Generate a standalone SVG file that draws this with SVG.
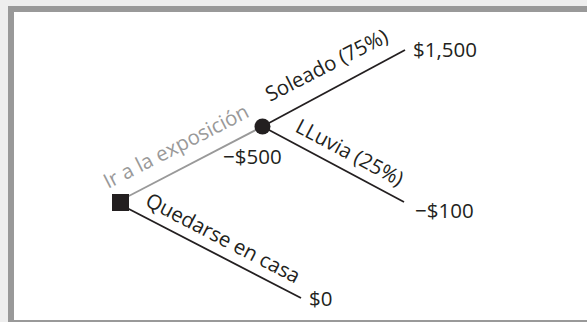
<svg xmlns="http://www.w3.org/2000/svg" width="587" height="322" viewBox="0 0 587 322">
<style>
.t{font-family:"Open Sans","Noto Sans",sans-serif;font-size:20.5px;fill:#231f20}
.g{fill:#999999}
.ln{stroke:#231f20;stroke-width:1.8;fill:none}
.lg{stroke:#999999;stroke-width:1.8;fill:none}
</style>
<rect x="0" y="0" width="587" height="322" fill="#eeeeee"/>
<rect x="8" y="6" width="600" height="330" fill="#999999"/>
<rect x="14" y="12" width="600" height="308" fill="#ffffff"/>
<g id="connectors">
<line class="lg" x1="125" y1="198" x2="262.5" y2="126.5"/>
<line class="ln" x1="262.5" y1="126.5" x2="405" y2="50"/>
<line class="ln" x1="262.5" y1="126.5" x2="404" y2="202"/>
<line class="ln" x1="125" y1="207" x2="301" y2="298"/>
<text class="t g" transform="translate(108,189) rotate(-27)">Ir a la exposición</text>
<text class="t" transform="translate(270,102) rotate(-27)">Soleado (75%)</text>
<text class="t" transform="translate(294,131) rotate(28)">LLuvia (25%)</text>
<text class="t" transform="translate(144,205) rotate(27.5)">Quedarse en casa</text>
</g>
<g id="decision">
<rect x="112" y="194" width="17" height="17" fill="#231f20"/>
</g>
<g id="chance">
<circle cx="262.5" cy="126.5" r="8" fill="#231f20"/>
<text class="t" x="223" y="164">−$500</text>
</g>
<g id="out-sun"><text class="t" x="413" y="57">$1,500</text></g>
<g id="out-rain"><text class="t" x="415" y="218">−$100</text></g>
<g id="out-home"><text class="t" x="309" y="306">$0</text></g>
</svg>
